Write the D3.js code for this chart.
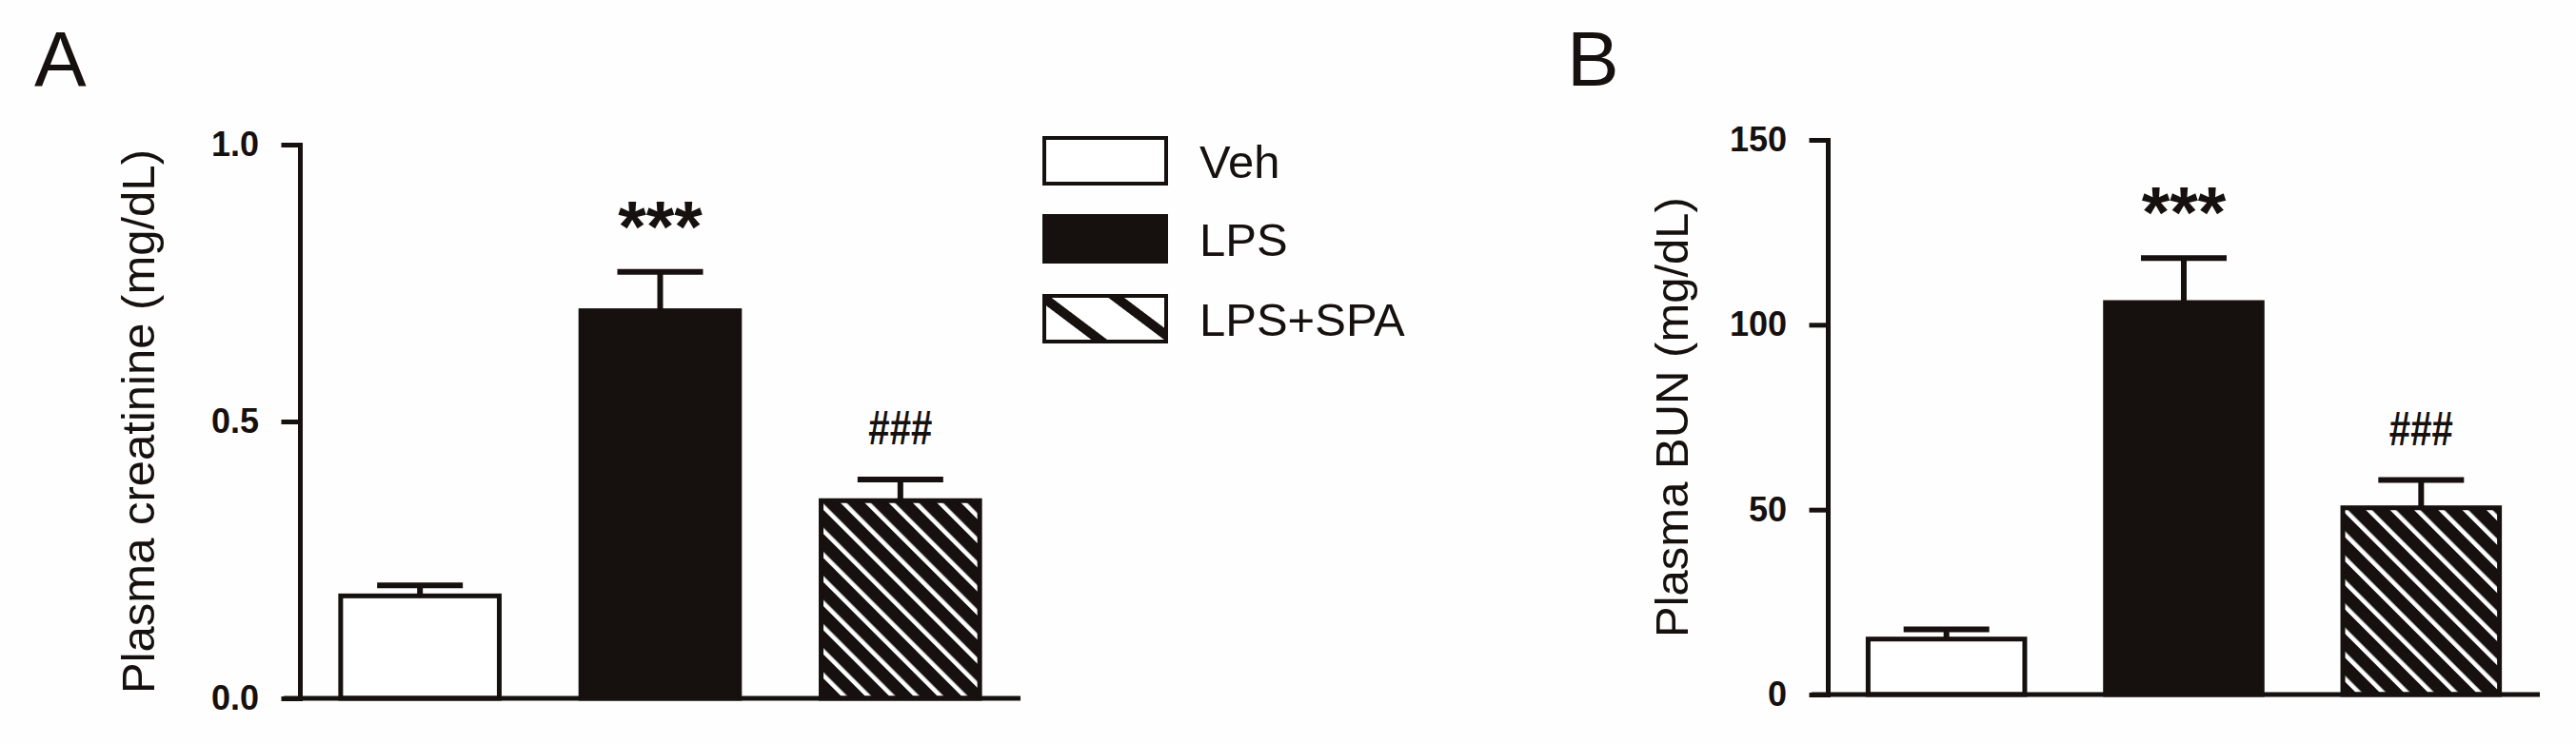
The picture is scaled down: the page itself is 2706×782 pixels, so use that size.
<!DOCTYPE html>
<html>

<head>
	<title>Plasma creatinine and BUN</title>
	<script src="https://cdn.jsdelivr.net/npm/d3@7"></script>
	<style>
		body {
			margin: 0;
			background: #fefefe;
		}

		text {
			font-family: Arial, "Liberation Sans", sans-serif;
			fill: #16100e;
		}
	</style>
</head>

<body>
	<svg id="chart" width="2706" height="782"></svg>

	<script>
		var groups = ['Veh', 'LPS', 'LPS+SPA'];
		var creatinine = [0.185, 0.70, 0.357];
		var creatinineSem = [0.019, 0.07, 0.038];
		var bun = [15, 106, 50.5];
		var bunSem = [2.6, 12, 7.5];
		var creatinineTicks = [0, 0.5, 1.0];
		var bunTicks = [0, 50, 100, 150];
		var marks = ['', '***', '###'];
		var fills = ['white', '#16100e', 'url(#bars)'];
		var legendFills = ['white', '#16100e', 'url(#legend)'];

		var ink = '#16100e';
		var svg = d3.select('#chart');

		// diagonal hatching: black bars with thin white lines, legend swatch with wide black lines
		var defs = svg.append('defs');
		var p1 = defs.append('pattern')
			.attr('id', 'bars')
			.attr('patternUnits', 'userSpaceOnUse')
			.attr('width', 17.9)
			.attr('height', 17.9)
			.attr('patternTransform', 'rotate(-45)');
		p1.append('rect').attr('width', 17.9).attr('height', 17.9).attr('fill', ink);
		p1.append('rect').attr('width', 4.6).attr('height', 17.9).attr('fill', 'white');

		var p2 = defs.append('pattern')
			.attr('id', 'legend')
			.attr('patternUnits', 'userSpaceOnUse')
			.attr('x', 1097)
			.attr('y', 311)
			.attr('width', 46)
			.attr('height', 46)
			.attr('patternTransform', 'rotate(-53)');
		p2.append('rect').attr('width', 46).attr('height', 46).attr('fill', 'white');
		p2.append('rect').attr('width', 10).attr('height', 46).attr('fill', ink);

		function panel(opts) {
			var y = d3.scaleLinear()
				.domain([0, d3.max(opts.ticks)])
				.range([opts.bottom, opts.top]);

			var x = d3.scaleBand()
				.domain(groups)
				.range([opts.left, opts.right])
				.paddingInner(0.32)
				.paddingOuter(0.16);

			var g = svg.append('g');

			// bars
			g.selectAll('rect.bar')
				.data(groups)
				.enter()
				.append('rect')
				.attr('class', 'bar')
				.attr('x', d => x(d) + 2.5)
				.attr('width', x.bandwidth() - 5)
				.attr('y', (d, i) => y(opts.values[i]))
				.attr('height', (d, i) => y(0) - y(opts.values[i]))
				.attr('fill', (d, i) => fills[i])
				.attr('stroke', ink)
				.attr('stroke-width', 5);

			// error bars (upper only)
			var err = g.selectAll('g.err')
				.data(groups)
				.enter()
				.append('g')
				.attr('class', 'err')
				.attr('stroke', ink)
				.attr('stroke-width', 6);

			err.append('line')
				.attr('x1', d => x(d) + x.bandwidth() / 2)
				.attr('x2', d => x(d) + x.bandwidth() / 2)
				.attr('y1', (d, i) => y(opts.values[i]))
				.attr('y2', (d, i) => y(opts.values[i] + opts.sem[i]));

			err.append('line')
				.attr('x1', d => x(d) + x.bandwidth() / 2 - 45)
				.attr('x2', d => x(d) + x.bandwidth() / 2 + 45)
				.attr('y1', (d, i) => y(opts.values[i] + opts.sem[i]))
				.attr('y2', (d, i) => y(opts.values[i] + opts.sem[i]));

			// significance marks
			var mark = g.selectAll('text.mark')
				.data(groups)
				.enter()
				.append('text')
				.attr('class', 'mark')
				.attr('x', d => x(d) + x.bandwidth() / 2)
				.attr('y', (d, i) => y(opts.values[i] + opts.sem[i]) - (i == 1 ? 22 : 37))
				.attr('text-anchor', 'middle')
				.attr('font-weight', 'bold')
				.attr('font-size', (d, i) => i == 1 ? 76 : 50)
				.text((d, i) => marks[i]);

			mark.filter((d, i) => i == 2)
				.attr('textLength', 67)
				.attr('lengthAdjust', 'spacingAndGlyphs');

			// y axis
			var axis = g.append('g')
				.attr('transform', 'translate(' + opts.left + ',0)')
				.call(d3.axisLeft(y)
					.tickValues(opts.ticks)
					.tickFormat(opts.format)
					.tickSize(17)
					.tickSizeOuter(0)
					.tickPadding(26));

			axis.selectAll('path, line')
				.attr('stroke', ink)
				.attr('stroke-width', 5)
				.attr('stroke-linecap', 'square');
			axis.selectAll('text')
				.attr('fill', ink)
				.attr('font-family', 'Arial, "Liberation Sans", sans-serif')
				.attr('font-weight', 'bold')
				.attr('font-size', 36);

			// x axis baseline
			g.append('line')
				.attr('x1', opts.left - 17)
				.attr('x2', opts.right)
				.attr('y1', y(0))
				.attr('y2', y(0))
				.attr('stroke', ink)
				.attr('stroke-width', 5);

			g.append('text')
				.attr('transform', 'translate(' + opts.labelX + ',' + (opts.top + opts.bottom) / 2 + ') rotate(-90)')
				.attr('text-anchor', 'middle')
				.attr('font-size', 49)
				.text(opts.label);

			g.append('text')
				.attr('x', opts.letterX)
				.attr('y', 90)
				.attr('font-size', 82)
				.text(opts.letter);
		}

		panel({
			letter: 'A', letterX: 36,
			values: creatinine, sem: creatinineSem, ticks: creatinineTicks,
			format: d3.format('.1f'),
			label: 'Plasma creatinine (mg/dL)', labelX: 162,
			left: 315, right: 1072, top: 152, bottom: 734
		});

		panel({
			letter: 'B', letterX: 1646,
			values: bun, sem: bunSem, ticks: bunTicks,
			format: d3.format('d'),
			label: 'Plasma BUN (mg/dL)', labelX: 1773,
			left: 1920, right: 2668, top: 147, bottom: 730
		});

		// legend
		var legend = svg.append('g')
			.selectAll('g')
			.data(groups)
			.enter()
			.append('g')
			.attr('transform', (d, i) => 'translate(1097,' + [145, 227, 311][i] + ')');

		legend.append('rect')
			.attr('width', 128)
			.attr('height', 48)
			.attr('fill', (d, i) => legendFills[i])
			.attr('stroke', ink)
			.attr('stroke-width', 4);

		legend.append('text')
			.attr('x', 163)
			.attr('y', 42)
			.attr('font-size', 49)
			.text(d => d);
	</script>
</body>

</html>
